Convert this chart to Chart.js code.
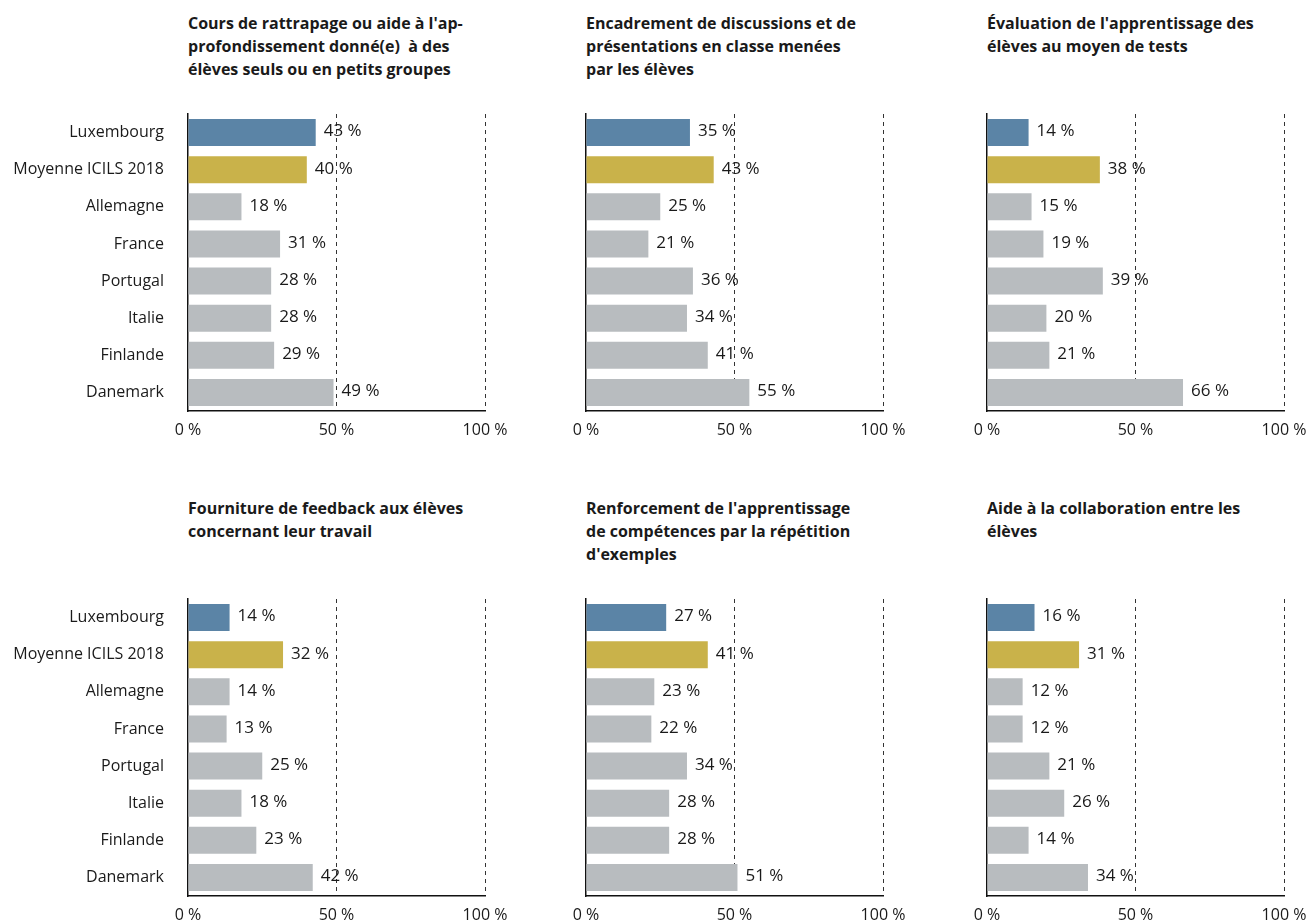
<!DOCTYPE html>
<html lang="fr">
<head>
<meta charset="utf-8">
<title>Pratiques pédagogiques</title>
<script src="https://cdn.jsdelivr.net/npm/chart.js@4.4.1/dist/chart.umd.min.js"></script>
<style>
  html, body { margin: 0; padding: 0; background: #fff; }
  body { width: 1310px; height: 921px; position: relative; overflow: hidden; font-family: "Open Sans", sans-serif; color: #1a1a1a; }
  .panel-title { position: absolute; font-weight: 700; font-size: 16px; line-height: 23px; white-space: pre; }
  .chart-box { position: absolute; }
</style>
</head>
<body>
<script>
const categories = ['Luxembourg', 'Moyenne ICILS 2018', 'Allemagne', 'France', 'Portugal', 'Italie', 'Finlande', 'Danemark'];
const xTicks = [0, 50, 100];

const titles = [
  ["Cours de rattrapage ou aide à l'ap-", "profondissement donné(e)  à des", "élèves seuls ou en petits groupes"],
  ["Encadrement de discussions et de", "présentations en classe menées", "par les élèves"],
  ["Évaluation de l'apprentissage des", "élèves au moyen de tests"],
  ["Fourniture de feedback aux élèves", "concernant leur travail"],
  ["Renforcement de l'apprentissage", "de compétences par la répétition", "d'exemples"],
  ["Aide à la collaboration entre les", "élèves"]
];

const rattrapage     = [43, 40, 18, 31, 28, 28, 29, 49];
const discussions    = [35, 43, 25, 21, 36, 34, 41, 55];
const tests          = [14, 38, 15, 19, 39, 20, 21, 66];
const feedback       = [14, 32, 14, 13, 25, 18, 23, 42];
const repetition     = [27, 41, 23, 22, 34, 28, 28, 51];
const collaboration  = [16, 31, 12, 12, 21, 26, 14, 34];
const seriesList = [rattrapage, discussions, tests, feedback, repetition, collaboration];

const BLUE = '#5b84a6';
const GOLD = '#c9b24a';
const GREY = '#b8bcbf';
const barColors = categories.map((c, i) => i === 0 ? BLUE : (i === 1 ? GOLD : GREY));

// panel geometry: canvas left, width of the y axis box, canvas width, space right of the plot
const cols = [
  { left: 0, yWidth: 188, width: 520, padRight: 35 },
  { left: 560, yWidth: 26, width: 358, padRight: 35 },
  { left: 961, yWidth: 26, width: 349, padRight: 26 }
];
const rows = [{ top: 100 }, { top: 585 }];
const PAD_TOP = 14, PLOT_H = 297, X_AXIS_H = 41;

const valueLabels = {
  id: 'valueLabels',
  afterDatasetsDraw(chart) {
    const ctx = chart.ctx;
    const meta = chart.getDatasetMeta(0);
    const data = chart.data.datasets[0].data;
    ctx.save();
    ctx.font = '17px "Open Sans", sans-serif';
    ctx.fillStyle = '#1a1a1a';
    ctx.textAlign = 'left';
    ctx.textBaseline = 'middle';
    meta.data.forEach((bar, i) => {
      ctx.fillText(data[i] + ' %', bar.x + 8, bar.y - 1);
    });
    ctx.restore();
  }
};

seriesList.forEach((values, idx) => {
  const col = cols[idx % 3];
  const row = rows[Math.floor(idx / 3)];
  const plotLeft = col.left + col.yWidth;

  const t = document.createElement('div');
  t.className = 'panel-title';
  t.style.left = plotLeft + 'px';
  t.style.top = (row.top - 88) + 'px';
  t.textContent = titles[idx].join('\n');
  document.body.appendChild(t);

  const box = document.createElement('div');
  box.className = 'chart-box';
  box.style.left = col.left + 'px';
  box.style.top = row.top + 'px';
  box.style.width = col.width + 'px';
  box.style.height = (PAD_TOP + PLOT_H + X_AXIS_H) + 'px';
  const canvas = document.createElement('canvas');
  box.appendChild(canvas);
  document.body.appendChild(box);

  const showLabels = idx % 3 === 0;

  new Chart(canvas, {
    type: 'bar',
    data: {
      labels: categories,
      datasets: [{
        data: values,
        backgroundColor: barColors,
        borderWidth: 0,
        barPercentage: 0.73,
        categoryPercentage: 1
      }]
    },
    options: {
      indexAxis: 'y',
      responsive: true,
      maintainAspectRatio: false,
      animation: false,
      layout: { padding: { top: PAD_TOP, right: col.padRight, left: 0, bottom: 0 } },
      plugins: { legend: { display: false }, tooltip: { enabled: false } },
      scales: {
        x: {
          min: 0,
          max: 100,
          afterBuildTicks(scale) { scale.ticks = xTicks.map(v => ({ value: v })); },
          afterFit(scale) {
            scale.height = X_AXIS_H;
            scale.paddingLeft = 0;
            scale.paddingRight = 0;
          },
          ticks: {
            padding: 10,
            color: '#1a1a1a',
            font: { family: '"Open Sans", sans-serif', size: 16 },
            callback: v => v + ' %'
          },
          grid: {
            drawTicks: false,
            lineWidth: 1,
            color: c => c.tick && c.tick.value === 0 ? 'rgba(0,0,0,0)' : '#333'
          },
          border: { display: true, color: '#111', width: 1.5, dash: [4, 4] }
        },
        y: {
          afterFit(scale) {
            scale.width = col.yWidth;
            scale.paddingTop = 0;
            scale.paddingBottom = 0;
          },
          ticks: {
            display: showLabels,
            padding: 24,
            color: '#1a1a1a',
            font: { family: '"Open Sans", sans-serif', size: 16 }
          },
          grid: { display: false, drawTicks: false },
          border: { display: true, color: '#111', width: 1.5 }
        }
      }
    },
    plugins: [valueLabels]
  });
});
</script>
</body>
</html>
